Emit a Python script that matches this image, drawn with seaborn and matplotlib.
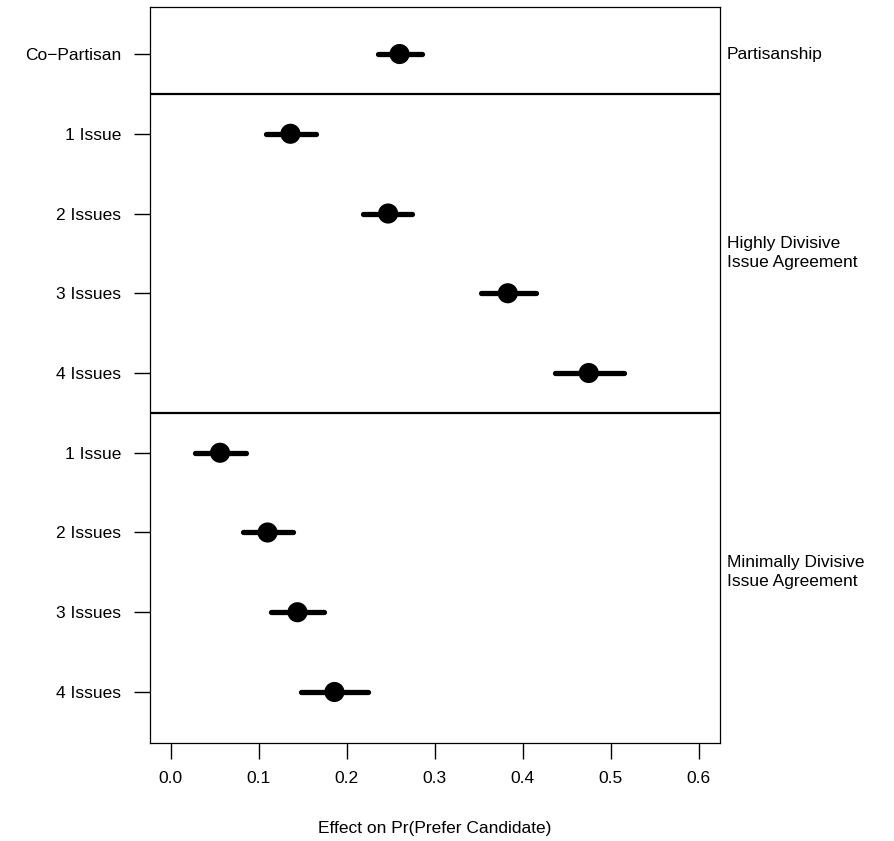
import matplotlib
matplotlib.use("Agg")
import matplotlib.pyplot as plt
import numpy as np
import pandas as pd
import seaborn as sns

# data
labels = ["Co\u2212Partisan", "1 Issue", "2 Issues", "3 Issues", "4 Issues",
          "1 Issue", "2 Issues", "3 Issues", "4 Issues"]
groups = ["Partisanship"] + ["Highly Divisive\nIssue Agreement"] * 4 + ["Minimally Divisive\nIssue Agreement"] * 4
estimate = [0.260, 0.136, 0.247, 0.383, 0.475, 0.056, 0.110, 0.144, 0.186]
lower = [0.236, 0.108, 0.218, 0.353, 0.437, 0.027, 0.082, 0.114, 0.148]
upper = [0.285, 0.165, 0.274, 0.415, 0.515, 0.086, 0.139, 0.174, 0.224]
x_ticks = [0.0, 0.1, 0.2, 0.3, 0.4, 0.5, 0.6]

df = pd.DataFrame({"label": labels, "group": groups, "est": estimate,
                   "lo": lower, "hi": upper})
df["pos"] = np.arange(1, len(df) + 1)

sns.set_theme(style="white", rc={"text.color": "black", "axes.labelcolor": "black",
                                 "xtick.color": "black", "ytick.color": "black"})
plt.rcParams["font.family"] = ["Liberation Sans", "DejaVu Sans"]

fig = plt.figure(figsize=(8.95, 8.41), dpi=100)
ax = fig.add_axes([0.1672, 0.1165, 0.6371, 0.8752])

# confidence intervals
ax.hlines(df["pos"], df["lo"], df["hi"], color="black", linewidth=3.8,
          capstyle="round", zorder=2)
# point estimates
sns.scatterplot(data=df, x="est", y="pos", color="black", s=210,
                edgecolor="none", ax=ax, zorder=3, legend=False)

# panel separators
for b in [1.5, 5.5]:
    ax.axhline(b, color="black", linewidth=1.6, zorder=1)

ax.set_xlim(-0.024, 0.624)
ax.set_ylim(9.64, 0.41)
ax.set_xticks(x_ticks)
ax.set_xticklabels([f"{t:.1f}" for t in x_ticks])
ax.set_yticks(df["pos"])
ax.set_yticklabels(df["label"])
ax.tick_params(axis="both", direction="out", length=11.5, width=1,
               color="black", labelcolor="black", labelsize=12.5, pad=9,
               left=True, bottom=True)
for sp in ax.spines.values():
    sp.set_color("black")
    sp.set_linewidth(0.9)
ax.set_xlabel("Effect on Pr(Prefer Candidate)", fontsize=12.5, labelpad=25,
              color="black")
ax.set_ylabel("")

# group labels on the right
for name, sub in df.groupby("group", sort=False):
    ax.text(1.012, sub["pos"].mean(), name, transform=ax.get_yaxis_transform(),
            ha="left", va="center", fontsize=12.5, linespacing=1.35,
            color="black")

fig.savefig("out.png", dpi=100)
